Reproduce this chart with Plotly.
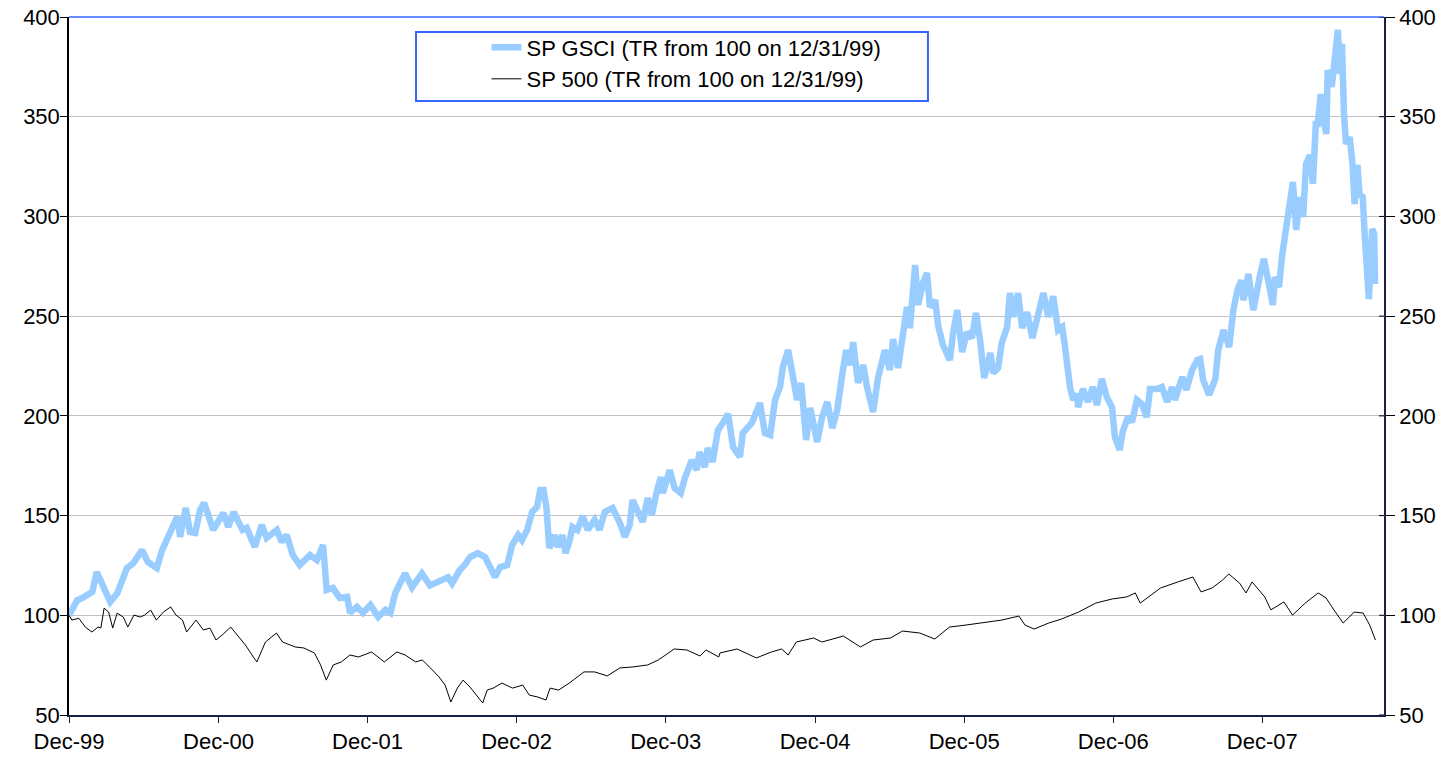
import plotly.graph_objects as go

# ---------------- data ----------------
gsci_dates = [
    "1999-12-31", "2000-01-20", "2000-02-04", "2000-02-26", "2000-03-08", "2000-03-20", "2000-04-10", "2000-04-27",
    "2000-05-09", "2000-05-21", "2000-06-05", "2000-06-27", "2000-07-11", "2000-08-02", "2000-08-15", "2000-09-04",
    "2000-09-21", "2000-09-28", "2000-10-12", "2000-10-22", "2000-11-04", "2000-11-16", "2000-11-26", "2000-12-06",
    "2000-12-18",
    "2001-01-12", "2001-01-24", "2001-02-06", "2001-02-28", "2001-03-10", "2001-03-30", "2001-04-16", "2001-04-28",
    "2001-05-23", "2001-06-04", "2001-06-16", "2001-07-01", "2001-07-18", "2001-08-12", "2001-08-29", "2001-09-13",
    "2001-09-22", "2001-10-07", "2001-10-24", "2001-11-11", "2001-11-18", "2001-12-05", "2001-12-20",
    "2002-01-07", "2002-01-26", "2002-02-13", "2002-02-25", "2002-03-09", "2002-03-21", "2002-04-02", "2002-04-19",
    "2002-05-13", "2002-06-02", "2002-06-26", "2002-07-16", "2002-07-26", "2002-08-14", "2002-08-26", "2002-09-08",
    "2002-09-27", "2002-10-15", "2002-10-27", "2002-11-08", "2002-11-21", "2002-12-08", "2002-12-20",
    "2003-01-04", "2003-01-13", "2003-01-26", "2003-02-07", "2003-02-19", "2003-02-27", "2003-03-07", "2003-03-14",
    "2003-03-21", "2003-04-03", "2003-04-10", "2003-04-22", "2003-04-30", "2003-05-10", "2003-05-17", "2003-05-29",
    "2003-06-11", "2003-06-23", "2003-07-10", "2003-07-22", "2003-08-04", "2003-08-23", "2003-09-10", "2003-09-22",
    "2003-10-04", "2003-10-11", "2003-10-24", "2003-11-05", "2003-11-17", "2003-11-27", "2003-12-09", "2003-12-19",
    "2003-12-24",
    "2004-01-10", "2004-01-22", "2004-02-06", "2004-02-16", "2004-03-04", "2004-03-16", "2004-03-23", "2004-04-05",
    "2004-04-12", "2004-04-24", "2004-05-07", "2004-05-19", "2004-06-01", "2004-06-13", "2004-06-30", "2004-07-07",
    "2004-07-29", "2004-08-18", "2004-08-30", "2004-09-12", "2004-09-24", "2004-10-06", "2004-10-13", "2004-10-26",
    "2004-11-05", "2004-11-17", "2004-11-27", "2004-12-09", "2004-12-19",
    "2005-01-05", "2005-01-17", "2005-01-30", "2005-02-11", "2005-02-23", "2005-03-08", "2005-03-17", "2005-03-27",
    "2005-04-03", "2005-04-15", "2005-04-28", "2005-05-07", "2005-05-22", "2005-06-03", "2005-06-20", "2005-07-02",
    "2005-07-10", "2005-07-22", "2005-08-03", "2005-08-13", "2005-08-20", "2005-09-02", "2005-09-09", "2005-09-21",
    "2005-10-01", "2005-10-08", "2005-10-21", "2005-10-28", "2005-11-09", "2005-11-26", "2005-12-04", "2005-12-14",
    "2005-12-26",
    "2006-01-07", "2006-01-19", "2006-01-29", "2006-02-08", "2006-02-18", "2006-03-05", "2006-03-12", "2006-03-24",
    "2006-04-02", "2006-04-15", "2006-04-22", "2006-04-30", "2006-05-12", "2006-05-22", "2006-06-03", "2006-06-16",
    "2006-06-30", "2006-07-13", "2006-07-25", "2006-08-06", "2006-08-18", "2006-08-28", "2006-09-04", "2006-09-16",
    "2006-09-24", "2006-10-03", "2006-10-06", "2006-10-18", "2006-10-30", "2006-11-11", "2006-11-21", "2006-12-03",
    "2006-12-15", "2006-12-28",
    "2007-01-04", "2007-01-16", "2007-01-23", "2007-02-05", "2007-02-15", "2007-02-27", "2007-03-11", "2007-03-23",
    "2007-03-31", "2007-04-17", "2007-04-29", "2007-05-12", "2007-05-24", "2007-05-31", "2007-06-18", "2007-06-28",
    "2007-07-12", "2007-07-25", "2007-08-01", "2007-08-08", "2007-08-23", "2007-09-07", "2007-09-14", "2007-09-27",
    "2007-10-11", "2007-10-21", "2007-10-31", "2007-11-10", "2007-11-15", "2007-11-27", "2007-12-09", "2007-12-19",
    "2007-12-26",
    "2008-01-04", "2008-01-14", "2008-01-26", "2008-01-31", "2008-02-10", "2008-02-18", "2008-02-25", "2008-03-03",
    "2008-03-15", "2008-03-23", "2008-04-01", "2008-04-09", "2008-04-16", "2008-04-26", "2008-05-03", "2008-05-10",
    "2008-05-15", "2008-05-22", "2008-05-27", "2008-06-05", "2008-06-08", "2008-06-18", "2008-06-23", "2008-06-27",
    "2008-07-03", "2008-07-08", "2008-07-13", "2008-07-18", "2008-07-23", "2008-08-01", "2008-08-08", "2008-08-13",
    "2008-08-20", "2008-08-25", "2008-09-02", "2008-09-07", "2008-09-12", "2008-09-17", "2008-09-25", "2008-09-30",
    "2008-10-02",
]
gsci_values = [
    100, 107.5, 109, 111.7, 121.7, 116, 106.7, 111,
    116.7, 123.7, 126, 132.7, 126.7, 123.7, 132.7, 142.8,
    149.3, 139.3, 153.8, 141.8, 141.3, 152.8, 156.3, 150.3,
    142.8,
    151.3, 144.3, 151.8, 142.8, 143.8, 134.3, 145.3, 138.8,
    142.8, 136.8, 140.3, 130.2, 125.2, 130.2, 127.7, 135.2,
    112.7, 113.7, 108.7, 109.2, 101.2, 104.2, 101.2,
    105.2, 99.2, 102.7, 101.2, 111.2, 116.2, 121, 114,
    121, 115, 117, 119, 116, 122.7, 125.2, 129.2,
    131.2, 129.2, 124.2, 119.2, 124.2, 125.2, 135.2,
    140.2, 137.7, 142.8, 151.8, 154.3, 162.8, 162.8, 154.3,
    133.7, 140.2, 134.2, 140.2, 131.2, 137.7, 144.3, 142.8,
    149.8, 142.8, 147.8, 142.8, 151.8, 153.8, 146.3, 139.3,
    145.3, 157.8, 151.3, 146.8, 158.8, 150.3, 161.8, 169.3,
    161.3,
    172.8, 163.8, 161.3, 168.8, 177.8, 172.8, 181.9, 174.3,
    183.9, 176.9, 192.9, 196.4, 201, 184.4, 179.4, 191.4,
    196.4, 206.4, 191.4, 190.4, 208, 214.5, 224.5, 233,
    219.5, 208, 216.5, 187.9, 204,
    186.9, 199.4, 207, 193.9, 202.9, 221.5, 233, 225.5,
    237, 216.5, 225.5, 214.5, 202, 219, 233, 223,
    238.5, 224, 239.6, 254.6, 244, 275.6, 255.6, 266.6,
    271.6, 254.6, 258, 245.6, 235.5, 228, 241.5, 253,
    232,
    242, 239, 251.6, 238, 219, 231.5, 221.5, 224,
    236.5, 244.5, 261.6, 249.6, 261.6, 244, 252, 239,
    249.6, 261.6, 249.6, 260, 243, 244.5, 234.5, 214.5,
    208, 211, 204.4, 213.5, 207, 214.5, 205.4, 218.5,
    209.5, 204.4,
    189.4, 182.9, 191.9, 199.4, 196.9, 208, 206, 199.4,
    213.5, 213.5, 214.5, 207, 214.5, 208, 219.5, 213,
    223, 228, 228.5, 218, 210.5, 218.5, 233, 243,
    234.5, 253, 263, 268, 258, 271.1, 253, 266.1,
    271.1,
    278.7, 268, 255.6, 269.6, 264.6, 281.2, 291.2, 302.2,
    317.3, 293.2, 309.7, 299.7, 326.3, 330.8, 316.3, 346.3,
    346.3, 361.4, 350, 341.4, 373.4, 364.9, 376.4, 383.5,
    393.5, 371.4, 386.5, 351.4, 336.3, 339.8, 326.3, 306.2,
    325.8, 311.2, 309.7, 289.7, 278.2, 258.6, 293.7, 291.2,
    266.1,
]

sp500_dates = [
    "1999-12-31", "2000-01-07", "2000-01-24", "2000-02-09", "2000-02-25", "2000-03-11", "2000-03-18", "2000-03-26",
    "2000-04-06", "2000-04-16", "2000-04-27", "2000-05-12", "2000-05-23", "2000-06-07", "2000-06-23", "2000-07-03",
    "2000-07-18", "2000-08-01", "2000-08-18", "2000-09-05", "2000-09-18", "2000-10-04", "2000-10-14", "2000-11-06",
    "2000-11-24", "2000-12-10", "2000-12-25",
    "2001-01-09", "2001-01-30", "2001-02-15", "2001-03-07", "2001-03-28", "2001-04-04", "2001-04-25", "2001-05-22",
    "2001-06-06", "2001-07-07", "2001-07-28", "2001-08-23", "2001-09-07", "2001-09-21", "2001-10-08", "2001-10-28",
    "2001-11-18", "2001-12-09",
    "2002-01-10", "2002-02-10", "2002-03-13", "2002-04-02", "2002-04-28", "2002-05-14", "2002-06-03", "2002-06-24",
    "2002-07-09", "2002-07-23", "2002-08-08", "2002-08-22", "2002-09-08", "2002-09-24", "2002-10-09", "2002-10-20",
    "2002-11-04", "2002-11-25", "2002-12-21",
    "2003-01-15", "2003-01-31", "2003-02-21", "2003-03-13", "2003-03-23", "2003-04-13", "2003-05-09", "2003-06-14",
    "2003-07-10", "2003-08-10", "2003-09-10", "2003-10-12", "2003-11-17", "2003-12-13",
    "2004-01-21", "2004-02-21", "2004-03-24", "2004-04-08", "2004-05-09", "2004-05-12", "2004-06-23", "2004-08-09",
    "2004-09-15", "2004-10-10", "2004-10-26", "2004-11-15", "2004-12-27",
    "2005-01-17", "2005-03-10", "2005-04-21", "2005-05-22", "2005-07-03", "2005-08-02", "2005-09-13", "2005-10-20",
    "2005-11-25", "2006-01-04",
    "2006-03-01", "2006-04-02", "2006-05-14", "2006-05-29", "2006-06-20", "2006-07-26", "2006-08-26", "2006-10-07",
    "2006-11-18", "2006-12-29",
    "2007-02-02", "2007-02-23", "2007-03-07", "2007-04-26", "2007-06-07", "2007-07-14", "2007-08-03", "2007-08-30",
    "2007-09-25", "2007-10-10", "2007-11-05", "2007-11-21", "2007-12-06",
    "2008-01-06", "2008-01-21", "2008-02-22", "2008-03-14", "2008-04-14", "2008-05-16", "2008-06-04", "2008-06-27",
    "2008-07-16", "2008-08-12", "2008-09-03", "2008-09-19", "2008-10-03",
]
sp500_values = [
    100, 97.6, 98.5, 94.1, 91.6, 94.1, 93.6, 103.6,
    101.6, 93.6, 101.1, 99.1, 94.1, 100.1, 99.1, 100.1,
    102.6, 97.6, 101.6, 104.2, 100.1, 97.6, 91.6, 97.6,
    92.6, 93.6, 87.6,
    90.1, 94.1, 90.1, 85.1, 78.6, 76.6, 86.6, 91.1,
    86.6, 84.1, 83.6, 81.1, 75.1, 67.5, 75.1, 76.6,
    80.1, 79.1,
    81.6, 76.6, 81.6, 80.1, 76.6, 77.6, 73.6, 69.1,
    65.0, 56.5, 63.5, 67.5, 64.0, 60.0, 56.0, 62.5,
    63.5, 66.0, 63.5,
    65.0, 60.0, 59.0, 57.5, 63.5, 62.5, 66.0, 71.6,
    71.6, 69.6, 73.6, 74.1, 75.1, 77.6,
    83.1, 82.6, 79.6, 82.6, 79.1, 81.1, 83.1, 78.6,
    81.6, 83.1, 80.1, 86.6, 88.6,
    86.6, 89.6, 84.1, 87.6, 88.6, 92.1, 91.1, 88.1,
    94.1, 95.1,
    96.6, 97.6, 99.6, 95.1, 93.1, 96.1, 98.1, 101.6,
    106.1, 108.2,
    109.2, 111.2, 106.1, 113.7, 116.7, 119.2, 111.7, 113.7,
    117.7, 120.7, 116.2, 111.2, 116.7,
    109.2, 102.7, 106.7, 100.1, 106.1, 111.2, 108.7, 101.6,
    96.1, 101.6, 101.1, 95.1, 87.6,
]

tick_dates = ["1999-12-31", "2000-12-31", "2001-12-31", "2002-12-31", "2003-12-31",
              "2004-12-31", "2005-12-31", "2006-12-31", "2007-12-31"]
tick_labels = ["Dec-99", "Dec-00", "Dec-01", "Dec-02", "Dec-03", "Dec-04", "Dec-05", "Dec-06", "Dec-07"]
y_ticks = [50, 100, 150, 200, 250, 300, 350, 400]

gsci_name = "SP GSCI (TR from 100 on 12/31/99)"
sp_name = "SP 500 (TR from 100 on 12/31/99)"

# ---------------- figure ----------------
FONT = "Liberation Sans, Arial, sans-serif"
AXIS_COLOR = "#1a1f4a"
TICK_SIZE = 22

fig = go.Figure()
fig.add_trace(go.Scatter(
    x=gsci_dates, y=gsci_values, mode="lines", name=gsci_name,
    line=dict(color="#99ccff", width=6.5), legendgroup="g1",
))
fig.add_trace(go.Scatter(
    x=sp500_dates, y=sp500_values, mode="lines", name=sp_name, yaxis="y2",
    line=dict(color="#000000", width=1), legendgroup="g2",
))

common_y = dict(
    range=[50, 400], tickvals=y_ticks, automargin=False, zeroline=False,
    showline=True, linewidth=1.5, ticks="outside", tickwidth=1, tickcolor="#000000",
    ticklabeloverflow="allow",
    tickfont=dict(family=FONT, size=TICK_SIZE, color="#000000"),
)

# short inner halves of the right-axis tick marks (they cross the axis line)
inner_ticks = [
    dict(type="line", xref="paper", yref="y", x0=1 - 5 / 1315, x1=1, y0=v, y1=v,
         line=dict(color="#000000", width=1))
    for v in y_ticks
]

fig.update_layout(
    template="none",
    width=1449, height=762,
    margin=dict(l=69, r=65, t=17, b=47, autoexpand=False),
    paper_bgcolor="white", plot_bgcolor="white",
    font=dict(family=FONT, size=TICK_SIZE, color="#000000"),
    showlegend=True,
    legend=dict(
        x=0.3175, y=0.9865, xanchor="left", yanchor="top",
        bgcolor="rgba(0,0,0,0)", borderwidth=0,
        font=dict(family=FONT, size=22, color="#000000"),
        tracegroupgap=0,
    ),
    xaxis=dict(
        type="date", automargin=False,
        range=["1999-12-31", "2008-10-24"],
        tickvals=tick_dates, ticktext=tick_labels,
        showgrid=False, zeroline=False,
        showline=True, linecolor=AXIS_COLOR, linewidth=1.5,
        ticks="outside", ticklen=6, tickcolor=AXIS_COLOR, tickwidth=1,
        ticklabeloverflow="allow",
        tickfont=dict(family=FONT, size=TICK_SIZE, color="#000000"),
    ),
    yaxis=dict(
        **common_y,
        showgrid=True, gridcolor="#c0c0c0", gridwidth=1,
        linecolor="#000000", ticklen=7, ticklabelstandoff=-4,
    ),
    yaxis2=dict(
        **common_y,
        overlaying="y", side="right", anchor="x", showgrid=False,
        linecolor=AXIS_COLOR, ticklen=9,
    ),
    shapes=[
        # blue top border of the plot area
        dict(type="line", xref="paper", yref="paper", x0=0, x1=1, y0=1, y1=1,
             line=dict(color="#3366ff", width=1.5)),
        # legend frame
        dict(type="rect", xref="paper", yref="paper", x0=0.2639, x1=0.6532, y0=0.8797, y1=0.9785,
             line=dict(color="#3366ff", width=2), fillcolor="white", layer="above"),
    ] + inner_ticks,
)

# remove the default 8px page margin so the figure fills the window exactly
fig.write_html(
    "out.html",
    config={"displayModeBar": False},
    post_script="document.body.style.margin='0';",
)
